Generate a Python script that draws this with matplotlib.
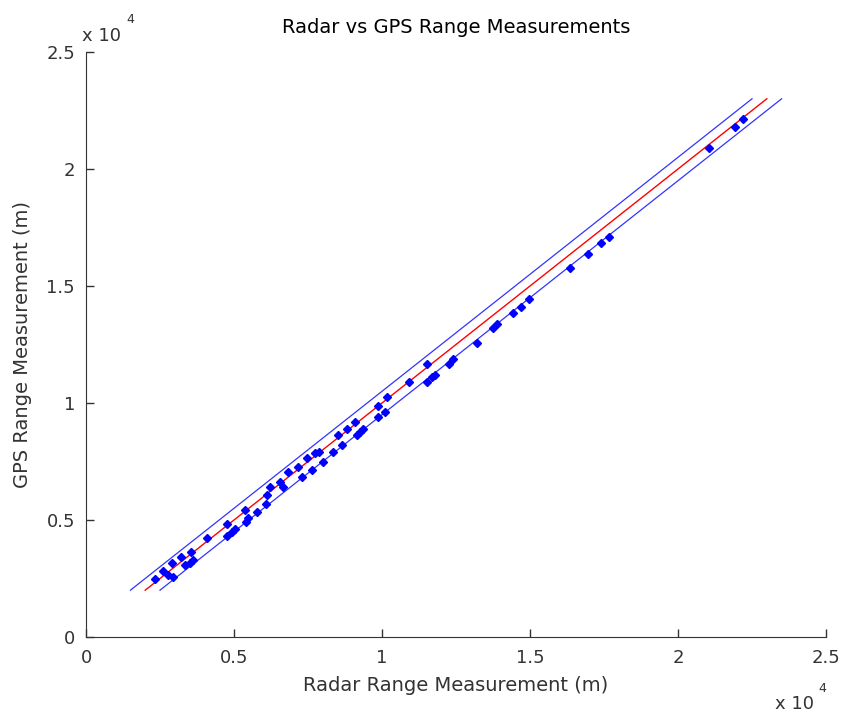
import matplotlib.pyplot as plt
import numpy as np

plt.rcParams['font.family'] = ['DejaVu Sans']

# radar vs GPS range readings (m)
radar = [2331, 2601, 2770, 2939, 2905, 3209, 3345, 3514, 3615, 3547,
         4088, 4764, 4764, 4932, 5034, 5372, 5405, 5473, 5777, 6081,
         6115, 6216, 6655, 6554, 6824, 7162, 7297, 7466, 7635, 7736,
         7872, 8007, 8345, 8514, 8649, 8818, 9088, 9155, 9257, 9358,
         9865, 9865, 10101, 10169, 10912, 11520, 11520, 11689, 11791, 12264,
         12399, 13209, 13750, 13885, 14426, 14696, 14966, 16351, 16959, 17399,
         17669, 21047, 21926, 22196]
gps = [2479, 2821, 2650, 2564, 3162, 3419, 3077, 3162, 3291, 3632,
       4231, 4829, 4316, 4487, 4615, 5427, 4915, 5085, 5342, 5684,
       6068, 6410, 6410, 6624, 7051, 7265, 6838, 7650, 7137, 7863,
       7906, 7479, 7906, 8632, 8205, 8889, 9188, 8632, 8761, 8889,
       9872, 9402, 9615, 10256, 10897, 11667, 10897, 11111, 11197, 11667,
       11880, 12564, 13205, 13376, 13846, 14103, 14444, 15769, 16368, 16838,
       17094, 20897, 21795, 22137]

# ideal line and +/- 500 m band
line_start = 2000
line_end = 23000
band = 500

fig = plt.figure(figsize=(8.44, 7.13), dpi=100)
ax = fig.add_axes([0.1019, 0.1066, 0.8768, 0.8205])

ref = np.array([line_start, line_end])
ax.plot(ref, ref, color='red', lw=1)
ax.plot(ref - band, ref, color='blue', lw=0.9, alpha=0.8)
ax.plot(ref + band, ref, color='blue', lw=0.9, alpha=0.8)
ax.plot(radar, gps, 'D', color='blue', ms=4.5, mec='blue')

ax.set_xlim(0, 25000)
ax.set_ylim(0, 25000)
ticks = np.arange(0, 25001, 5000)
labels = ['0', '0.5', '1', '1.5', '2', '2.5']
ax.set_xticks(ticks)
ax.set_xticklabels(labels)
ax.set_yticks(ticks)
ax.set_yticklabels(labels)
ax.tick_params(direction='in', length=6, width=1, labelsize=13, colors='#333333')
ax.tick_params(axis='x', pad=9)
ax.tick_params(axis='y', pad=8)
for s in ['top', 'right']:
    ax.spines[s].set_visible(False)
for s in ['left', 'bottom']:
    ax.spines[s].set_color('#333333')

ax.set_title('Radar vs GPS Range Measurements', fontsize=14, pad=14)
ax.set_xlabel('Radar Range Measurement (m)', fontsize=14, labelpad=6, color='#333333')
ax.set_ylabel('GPS Range Measurement (m)', fontsize=14, labelpad=10, color='#333333')

# MATLAB-style exponent labels
fig.text(0.097, 0.9425, 'x 10', fontsize=13, ha='left', va='baseline', color='#333333')
fig.text(0.150, 0.968, '4', fontsize=9, ha='left', va='baseline', color='#333333')
fig.text(0.918, 0.006, 'x 10', fontsize=13, ha='left', va='baseline', color='#333333')
fig.text(0.970, 0.029, '4', fontsize=9, ha='left', va='baseline', color='#333333')

plt.savefig('out.png', dpi=100)
